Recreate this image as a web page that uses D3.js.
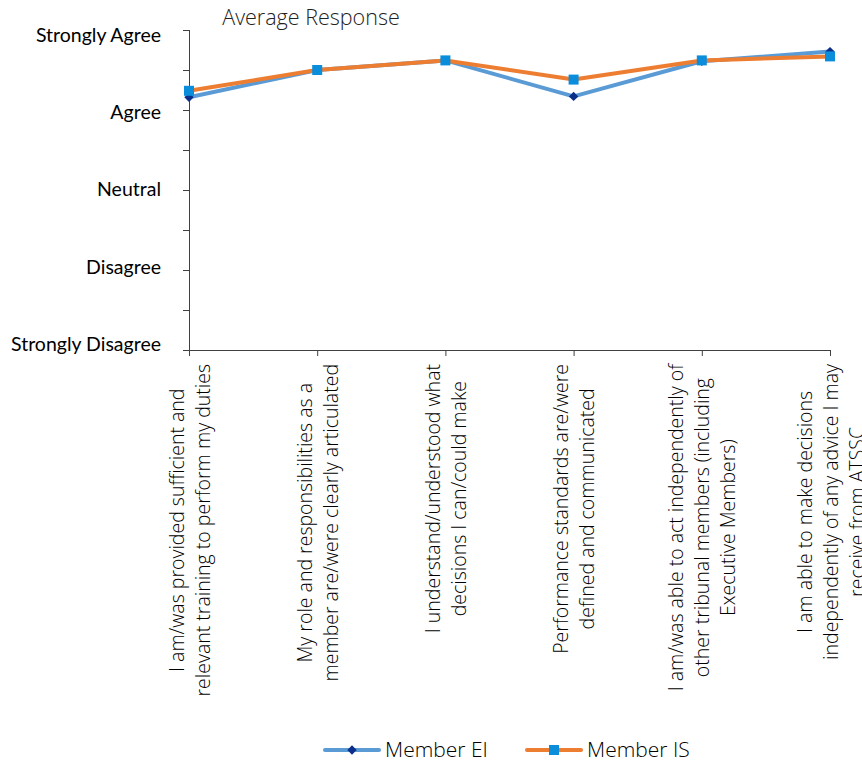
<!DOCTYPE html>
<html>
<head>
<meta charset="utf-8">
<script src="https://cdn.jsdelivr.net/npm/d3@7"></script>
<style>
  body { margin: 0; background: #fff; }
  svg { display: block; }
</style>
</head>
<body>
<svg id="chart"></svg>
<script>
// survey statements, one array of lines per category
const categories = [
    ["I am/was provided sufficient and", "relevant training to perform my duties"],
    ["My role and responsibilities as a", "member are/were clearly articulated"],
    ["I understand/understood what", "decisions I can/could make"],
    ["Performance standards are/were", "defined and communicated"],
    ["I am/was able to act independently of", "other tribunal members (including", "Executive Members)"],
    ["I am able to make decisions", "independently of any advice I may", "receive from  ATSSC"]
];
const memberEI = [4.16, 4.50, 4.62, 4.17, 4.61, 4.73];
const memberIS = [4.24, 4.50, 4.62, 4.38, 4.62, 4.67];
const yTickLabels = ["Strongly Disagree", "Disagree", "Neutral", "Agree", "Strongly Agree"];
const seriesNames = ["Member EI", "Member IS"];

const width = 862, height = 762;
const margin = { top: 30, right: 32, bottom: 412, left: 189 };
const innerW = width - margin.left - margin.right;
const innerH = height - margin.top - margin.bottom;

const svg = d3.select("#chart").attr("width", width).attr("height", height);
const g = svg.append("g").attr("transform", `translate(${margin.left}, ${margin.top})`);

const xScale = d3.scalePoint().domain(d3.range(categories.length)).range([0, innerW]);
const yScale = d3.scaleLinear().domain([1, 5]).range([innerH, 0]);
// the text labels sit a little inside the tick span, as in the original
const yLabelScale = d3.scaleLinear().domain([1, 5]).range([innerH - 6, 5]);

const axisColor = "#404040";
const thinFont = "'Open Sans', Roboto, sans-serif";

// y axis: major ticks at whole points, minor ticks at halves
const yAxis = g.append("g")
    .call(d3.axisLeft(yScale).tickValues(d3.range(1, 5.01, 0.5)).tickSize(6).tickFormat(""));
yAxis.select(".domain").attr("stroke", axisColor).attr("d", `M0.5,${innerH}V0`);
yAxis.selectAll(".tick line").attr("stroke", axisColor);

g.selectAll(".ylab")
    .data(yTickLabels)
    .join("text")
    .attr("class", "ylab")
    .attr("x", -28)
    .attr("y", (d, i) => yLabelScale(i + 1))
    .attr("dy", "0.35em")
    .attr("text-anchor", "end")
    .attr("font-family", "Lato, 'Open Sans', sans-serif")
    .attr("font-size", "19.5px")
    .attr("fill", "#000")
    .text(d => d);

// x axis
const xAxis = g.append("g")
    .attr("transform", `translate(0, ${innerH})`)
    .call(d3.axisBottom(xScale).tickSize(6).tickSizeOuter(0).tickFormat(""));
xAxis.select(".domain").attr("stroke", axisColor).attr("d", `M-6,0.5H${innerW}`);
xAxis.selectAll(".tick line").attr("stroke", axisColor);

// rotated category labels, each block hanging below the axis, lines centred on each other
const labelTop = innerH + 14;
const lineGap = 26;
const labels = g.append("g").attr("font-family", thinFont)
    .attr("font-size", "19.5px").attr("font-weight", 300).attr("fill", "#000");

categories.forEach((lines, i) => {
    const grp = labels.append("g");
    const texts = grp.selectAll("text")
        .data(lines)
        .join("text")
        .attr("text-anchor", "middle")
        .attr("dominant-baseline", "central")
        .text(d => d);
    const maxLen = d3.max(texts.nodes(), n => n.getComputedTextLength());
    const cy = labelTop + maxLen / 2;
    texts.attr("transform", (d, j) => {
        const cx = xScale(i) + (j - (lines.length - 1) / 2) * lineGap;
        return `translate(${cx}, ${cy}) rotate(-90)`;
    });
});

// lines
const line = d3.line().x((d, i) => xScale(i)).y(d => yScale(d));

g.append("path").datum(memberEI)
    .attr("fill", "none").attr("stroke", "#5B9BD5").attr("stroke-width", 4)
    .attr("stroke-linejoin", "round").attr("d", line);
g.append("path").datum(memberIS)
    .attr("fill", "none").attr("stroke", "#ED7D31").attr("stroke-width", 4)
    .attr("stroke-linejoin", "round").attr("d", line);

const diamond = d3.symbol().type(d3.symbolDiamond2).size(56);
g.selectAll(".mEI")
    .data(memberEI)
    .join("path")
    .attr("class", "mEI")
    .attr("transform", (d, i) => `translate(${xScale(i)}, ${yScale(d)})`)
    .attr("d", diamond)
    .attr("fill", "#0B2F8A");

g.selectAll(".mIS")
    .data(memberIS)
    .join("rect")
    .attr("class", "mIS")
    .attr("x", (d, i) => xScale(i) - 5)
    .attr("y", d => yScale(d) - 5)
    .attr("width", 10)
    .attr("height", 10)
    .attr("fill", "#0A8DDB");

// title
svg.append("text")
    .attr("x", 311).attr("y", 17)
    .attr("dy", "0.35em")
    .attr("text-anchor", "middle")
    .attr("font-family", thinFont)
    .attr("font-weight", 300)
    .attr("font-size", "21.5px")
    .attr("fill", "#222")
    .text("Average Response");

// legend
const legend = svg.append("g")
    .attr("font-family", thinFont)
    .attr("font-weight", 300)
    .attr("font-size", "21px");
const legendX = [325, 527];
const legendColors = ["#5B9BD5", "#ED7D31"];
seriesNames.forEach((name, i) => {
    const lg = legend.append("g").attr("transform", `translate(${legendX[i]}, 750)`);
    lg.append("line").attr("x1", 0).attr("x2", 54).attr("y1", 0).attr("y2", 0)
        .attr("stroke", legendColors[i]).attr("stroke-width", 4).attr("stroke-linecap", "round");
    if (i === 0) {
        lg.append("path").attr("transform", "translate(27, 0)").attr("d", diamond).attr("fill", "#0B2F8A");
    } else {
        lg.append("rect").attr("x", 22).attr("y", -5).attr("width", 10).attr("height", 10).attr("fill", "#0A8DDB");
    }
    lg.append("text").attr("x", 60).attr("dy", "0.35em").attr("fill", "#000").text(name);
});
</script>
</body>
</html>
